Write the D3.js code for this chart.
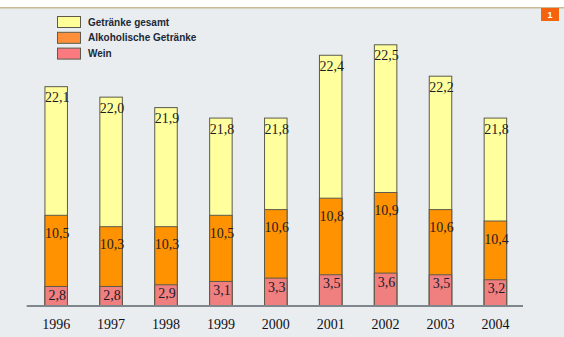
<!DOCTYPE html>
<html>
<head>
<meta charset="utf-8">
<script src="https://cdn.jsdelivr.net/npm/d3@7"></script>
<style>
  html, body { margin: 0; padding: 0; background: #e9edef; }
  svg { display: block; }
</style>
</head>
<body>
<div id="chart"></div>
<script>
const years = ["1996", "1997", "1998", "1999", "2000", "2001", "2002", "2003", "2004"];
const gesamt = [22.1, 22.0, 21.9, 21.8, 21.8, 22.4, 22.5, 22.2, 21.8];
const alkohol = [10.5, 10.3, 10.3, 10.5, 10.6, 10.8, 10.9, 10.6, 10.4];
const wein = [2.8, 2.8, 2.9, 3.1, 3.3, 3.5, 3.6, 3.5, 3.2];

const seriesNames = ["Getränke gesamt", "Alkoholische Getränke", "Wein"];
const barColors = ["#ffff9e", "#ff9200", "#f07f80"];
const swatchColors = ["#ffff99", "#ff8f3a", "#fb7a7f"];

const width = 564, height = 337;
const baseY = 306.5;

const svg = d3.select("#chart").append("svg")
  .attr("width", width)
  .attr("height", height);

svg.append("rect")
  .attr("width", width).attr("height", height)
  .attr("fill", "#e9edef");

// top white strip + rule + page marker
svg.append("rect").attr("x", 0).attr("y", 0).attr("width", width).attr("height", 7).attr("fill", "#fff");
svg.append("rect").attr("x", 0).attr("y", 7).attr("width", width).attr("height", 1.5).attr("fill", "#c9b995");
svg.append("rect").attr("x", 541).attr("y", 8).attr("width", 18).attr("height", 13).attr("fill", "#f5630f");
svg.append("text")
  .attr("x", 550).attr("y", 15)
  .attr("text-anchor", "middle").attr("dominant-baseline", "central")
  .attr("font-family", "Liberation Sans, Arial, sans-serif")
  .attr("font-size", 9).attr("font-weight", "bold")
  .attr("fill", "#fff")
  .text("1");

// each series sits on its own truncated scale (as in the original graphic)
const x = d3.scalePoint().domain(years).range([56.2, 495.4]);
const barW = 22.5;

const yGesamt = d3.scaleLinear().domain([20, 22.5]).range([baseY, baseY - 261.7]);
const yAlk = d3.scaleLinear().domain([8.9, 10.9]).range([baseY, baseY - 114]);
const yWein = d3.scaleLinear().domain([1.6, 3.6]).range([baseY, baseY - 33.4]);

const layers = [
  { values: gesamt, y: yGesamt, color: barColors[0], labelDy: 11 },
  { values: alkohol, y: yAlk, color: barColors[1], labelDy: 18 },
  { values: wein, y: yWein, color: barColors[2], labelDy: 9 }
];

const fmt = v => d3.format(".1f")(v).replace(".", ",");

layers.forEach(layer => {
  const g = svg.append("g");
  const data = years.map((yr, i) => ({ yr, v: layer.values[i] }));

  g.selectAll("rect")
    .data(data).enter()
    .append("rect")
    .attr("x", d => x(d.yr) - barW / 2)
    .attr("y", d => layer.y(d.v))
    .attr("width", barW)
    .attr("height", d => baseY - layer.y(d.v))
    .attr("fill", layer.color)
    .attr("stroke", "#5b5a4c")
    .attr("stroke-width", 1);
});

// value labels on top of all bars
layers.forEach(layer => {
  const data = years.map((yr, i) => ({ yr, v: layer.values[i] }));
  svg.append("g").selectAll("text")
    .data(data).enter()
    .append("text")
    .attr("x", d => x(d.yr) + 1)
    .attr("y", d => layer.y(d.v) + layer.labelDy)
    .attr("text-anchor", "middle")
    .attr("dominant-baseline", "central")
    .attr("font-family", "Liberation Serif, Times New Roman, serif")
    .attr("font-size", 14)
    .attr("fill", "#1c1c28")
    .text(d => fmt(d.v));
});

// baseline
svg.append("line")
  .attr("x1", 26.7).attr("x2", 523)
  .attr("y1", baseY - 0.5).attr("y2", baseY - 0.5)
  .attr("stroke", "#7f878d")
  .attr("stroke-width", 2);

// year labels
svg.append("g").selectAll("text")
  .data(years).enter()
  .append("text")
  .attr("x", d => x(d))
  .attr("y", 324)
  .attr("text-anchor", "middle")
  .attr("dominant-baseline", "central")
  .attr("font-family", "Liberation Serif, Times New Roman, serif")
  .attr("font-size", 14)
  .attr("fill", "#101018")
  .text(d => d);

// legend
const legend = svg.append("g").attr("transform", "translate(57,16)");
seriesNames.forEach((name, i) => {
  const row = legend.append("g").attr("transform", `translate(0,${i * 15.8})`);
  row.append("rect")
    .attr("x", 0.5).attr("y", 0.5)
    .attr("width", 23).attr("height", 11)
    .attr("fill", swatchColors[i])
    .attr("stroke", "#5b5a4c");
  row.append("text")
    .attr("x", 31).attr("y", 6)
    .attr("dominant-baseline", "central")
    .attr("font-family", "Liberation Sans, Arial, sans-serif")
    .attr("font-size", 10)
    .attr("font-weight", "bold")
    .attr("fill", "#1b2838")
    .text(name);
});
</script>
</body>
</html>
